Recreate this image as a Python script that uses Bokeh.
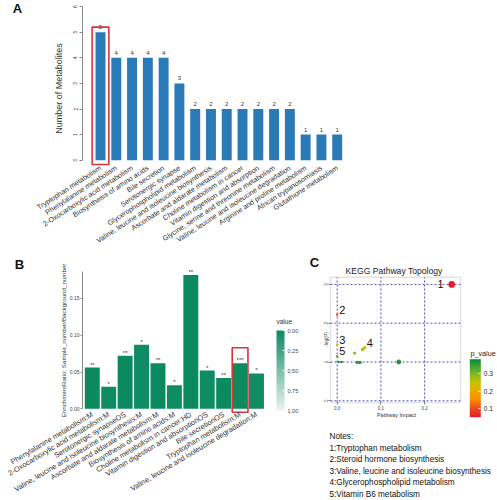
import numpy as np
from math import radians, pi
from bokeh.plotting import figure
from bokeh.models import (ColumnDataSource, Range1d, FixedTicker, Label, ColorBar,
                          LinearColorMapper, PrintfTickFormatter, BoxAnnotation,
                          CustomJSTickFormatter, AllLabels)
from bokeh.layouts import column, row
from bokeh.embed import file_html
from bokeh.resources import INLINE
from bokeh.core.properties import value
from bokeh.transform import transform

# ---------------- data: panel A ----------------
a_pathways = ["Tryptophan metabolism", "Phenylalanine metabolism",
              "2-Oxocarboxylic acid metabolism", "Biosynthesis of amino acids",
              "Bile secretion", "Serotonergic synapse", "Glycerophospholipid metabolism",
              "Valine, leucine and isoleucine biosynthesis", "Ascorbate and aldarate metabolism",
              "Choline metabolism in cancer", "Vitamin digestion and absorption",
              "Glycine, serine and threonine metabolism",
              "Valine, leucine and isoleucine degradation", "Arginine and proline metabolism",
              "African trypanosomiasis", "Glutathione metabolism"]
a_counts = [5, 4, 4, 4, 4, 3, 2, 2, 2, 2, 2, 2, 2, 1, 1, 1]
a_highlight = "Tryptophan metabolism"
a_yticks = [0, 1, 2, 3, 4, 5, 6]

# ---------------- data: panel B ----------------
b_pathways = ["Phenylalanine metabolism:M", "2-Oxocarboxylic acid metabolism:M",
              "Serotonergic synapseOS", "Valine, leucine and isoleucine biosynthesis:M",
              "Ascorbate and aldarate metabolism:M", "Biosynthesis of amino acids:M",
              "Choline metabolism in cancer:HD", "Vitamin digestion and absorptionOS",
              "Bile secretionOS", "Tryptophan metabolism:M",
              "Valine, leucine and isoleucine degradation:M"]
b_ratio = [0.056, 0.030, 0.072, 0.087, 0.062, 0.032, 0.182, 0.052, 0.042, 0.062, 0.048]
b_stars = ["**", "*", "**", "*", "**", "*", "**", "*", "**", "***", "*"]
b_value = [0.005, 0.02, 0.005, 0.02, 0.005, 0.02, 0.005, 0.02, 0.005, 0.0005, 0.02]
b_highlight = "Tryptophan metabolism:M"
b_yticks = [0.0, 0.05, 0.10, 0.15]
b_ymax = 0.1866
b_value_ticks = [0.0, 0.25, 0.50, 0.75, 1.00]

# ---------------- data: panel C ----------------
c_impact = [0.262, 0.0, 0.0, 0.063, 0.0, 0.058, 0.040, 0.046, 0.052, 0.141, 0.003, 0.010]
c_neglogp = [3.00, 2.22, 1.45, 1.37, 1.15, 1.32, 1.23, 0.99, 0.99, 1.00, 1.00, 1.00]
c_label = ["1", "2", "3", "4", "5", "", "", "", "", "", "", ""]
c_names = ["Tryptophan metabolism", "Steroid hormone biosynthesis",
           "Valine, leucine and isoleucine biosynthesis", "Glycerophospholipid metabolism",
           "Vitamin B6 metabolism"]
c_xticks = [0.0, 0.1, 0.2]
c_yticks = [0, 1, 2, 3]
c_xlim = (-0.0153, 0.2822)
c_ylim = (-0.044, 3.186)
c_pticks = [0.1, 0.2, 0.3]

FONT = "Liberation Sans"
A_BLUE = "#2a7ab8"
RED = "#d8343c"

# ---------------- layout geometry (pixels) ----------------
W = 497
H_TOP, H_BOT = 248, 252
W_B = 300
W_C = W - W_B


def interp_palette(stops, n=256):
    pos = np.array([s[0] for s in stops], float)
    cols = np.array([[int(s[1][i:i + 2], 16) for i in (1, 3, 5)] for s in stops], float)
    out = []
    for v in np.linspace(pos[0], pos[-1], n):
        rgb = [int(round(np.interp(v, pos, cols[:, k]))) for k in range(3)]
        out.append("#%02x%02x%02x" % tuple(rgb))
    return out


def base_fig(width, height, x_range, y_range):
    f = figure(width=width, height=height, x_range=x_range, y_range=y_range,
               output_backend="svg", toolbar_location=None,
               min_border_left=0, min_border_right=0, min_border_top=0, min_border_bottom=0)
    f.grid.visible = False
    f.outline_line_color = None
    f.background_fill_color = "white"
    f.border_fill_color = "white"
    return f


def style_axis(ax, size, color="#444444"):
    ax.major_label_text_font = FONT
    ax.major_label_text_font_size = size
    ax.major_label_text_color = color
    ax.minor_tick_line_color = None


def text_label(fig, x, y, text, size, bold=False, align="center", angle=0.0, color="#222222",
               baseline="middle"):
    fig.add_layout(Label(x=x, y=y, x_units="screen", y_units="screen", text=text,
                         text_font=FONT, text_font_size=size,
                         text_font_style="bold" if bold else "normal",
                         text_align=align, text_baseline=baseline, angle=angle,
                         text_color=color))


# ================= Panel A =================
A_BAR0, A_STEP, A_ZERO, A_UNIT, A_AXIS_X = 100.0, 15.78, 159.7, 25.6, 82.0
pa = base_fig(W, H_TOP, Range1d(-A_BAR0 / A_STEP, (W - A_BAR0) / A_STEP),
              Range1d(-(H_TOP - A_ZERO) / A_UNIT, A_ZERO / A_UNIT))
a_idx = list(range(len(a_pathways)))
srcA = ColumnDataSource(dict(x=a_idx, top=a_counts, lab=[str(c) for c in a_counts]))
pa.vbar(x="x", top="top", bottom=0, width=0.63, source=srcA, fill_color=A_BLUE, line_color=None)
pa.text(x="x", y="top", text="lab", source=srcA, text_align="center", text_baseline="bottom",
        y_offset=-3, text_font_size="6px", text_color="#333333", text_font=value(FONT))
ha = a_pathways.index(a_highlight)
pa.quad(left=[ha - 0.53], right=[ha + 0.53], top=[a_counts[ha] + 0.2], bottom=[-0.17],
        fill_color=None, line_color=RED, line_width=1.6)

xa = pa.xaxis[0]
xa.fixed_location = 0
xa.ticker = FixedTicker(ticks=a_idx)
xa.major_label_overrides = {i: n for i, n in zip(a_idx, a_pathways)}
xa.major_label_orientation = radians(33)
xa.axis_line_color = None
xa.major_tick_line_color = None
xa.major_tick_in = 0
xa.major_tick_out = 0
xa.major_label_standoff = 7
style_axis(xa, "7.2px", "#333333")

ya = pa.yaxis[0]
ya.fixed_location = (A_AXIS_X - A_BAR0) / A_STEP
ya.bounds = (0, 6)
ya.ticker = FixedTicker(ticks=a_yticks)
ya.major_label_orientation = "vertical"
ya.axis_line_color = "#888888"
ya.major_tick_line_color = "#888888"
ya.major_tick_in = 0
ya.major_tick_out = 3
ya.major_label_standoff = 2
style_axis(ya, "5px")

text_label(pa, 58, H_TOP - 88, "Number of Metabolites", "9px", angle=pi / 2, color="#333333")
text_label(pa, 17, H_TOP - 8, "A", "13px", bold=True, color="#111111")

# ================= Panel B =================
B_TOP = H_TOP
B_BAR0, B_STEP, B_ZERO, B_UNIT, B_AXIS_X = 91.8, 16.42, 408.3 - B_TOP, 735.6, 82.0
pb = base_fig(W_B, H_BOT, Range1d(-B_BAR0 / B_STEP, (W_B - B_BAR0) / B_STEP),
              Range1d(-(H_BOT - B_ZERO) / B_UNIT, B_ZERO / B_UNIT))
b_idx = list(range(len(b_pathways)))
# colour key runs from 0.00 (dark, top) down to 1.00 (light, bottom): map 1 - value
mapB = LinearColorMapper(palette=interp_palette([(0, "#eaf4ef"), (1, "#0b8a5e")]),
                         low=0, high=1)
srcB = ColumnDataSource(dict(x=b_idx, top=b_ratio, stars=b_stars,
                             flip=[1 - v for v in b_value]))
pb.vbar(x="x", top="top", bottom=0, width=0.91, source=srcB,
        fill_color=transform("flip", mapB), line_color=None)
pb.text(x="x", y="top", text="stars", source=srcB, text_align="center",
        text_baseline="bottom", y_offset=0, text_font_size="6px", text_color="#333333",
        text_font=value(FONT))
hb = b_pathways.index(b_highlight)
pb.quad(left=[hb - 0.48], right=[hb + 0.48], top=[b_ratio[hb] + 0.021], bottom=[-0.0046],
        fill_color=None, line_color=RED, line_width=1.6)

xb = pb.xaxis[0]
xb.fixed_location = 0
xb.ticker = FixedTicker(ticks=b_idx)
xb.major_label_overrides = {i: n for i, n in zip(b_idx, b_pathways)}
xb.major_label_orientation = radians(31)
xb.axis_line_color = None
xb.major_tick_line_color = None
xb.major_tick_in = 0
xb.major_tick_out = 0
xb.major_label_standoff = 5
style_axis(xb, "7.4px", "#333333")

yb = pb.yaxis[0]
yb.fixed_location = (B_AXIS_X - B_BAR0) / B_STEP
yb.bounds = (0, b_ymax)
yb.ticker = FixedTicker(ticks=b_yticks)
yb.formatter = PrintfTickFormatter(format="%.2f")
yb.axis_line_color = "#888888"
yb.major_tick_line_color = "#888888"
yb.major_tick_in = 0
yb.major_tick_out = 2
yb.major_label_standoff = 1
style_axis(yb, "5px")

text_label(pb, 63, H_BOT - (340 - B_TOP),
           "EnrichmentRatio: Sample_number/Background_number", "6.2px", angle=pi / 2,
           color="#333333")
text_label(pb, 19, H_BOT - (264 - B_TOP), "B", "13px", bold=True, color="#111111")

cbB = ColorBar(color_mapper=mapB, location=(276, H_BOT - (410 - B_TOP)), width=8, height=80,
               padding=0, margin=0, title=None,
               ticker=FixedTicker(ticks=[1 - t for t in b_value_ticks]),
               formatter=CustomJSTickFormatter(code="return (1 - tick).toFixed(2)"),
               major_label_policy=AllLabels(),
               major_label_text_font=FONT, major_label_text_font_size="5.5px",
               major_label_text_color="#444444", label_standoff=3,
               major_tick_line_color="white", major_tick_in=2, major_tick_out=0,
               minor_tick_line_color=None, bar_line_color=None, border_line_color=None,
               background_fill_color=None)
pb.add_layout(cbB)
text_label(pb, 276, H_BOT - (321 - B_TOP), "value", "6.5px", align="left", color="#333333")

# ================= Panel C =================
C_LEFT, C_TOP = W_B, H_TOP
C_X0, C_XU, C_Y0, C_YU = 336.7 - C_LEFT, 437.0, 400.3 - C_TOP, 38.8
pc = base_fig(W_C, H_BOT, Range1d(-C_X0 / C_XU, (W_C - C_X0) / C_XU),
              Range1d(-(H_BOT - C_Y0) / C_YU, C_Y0 / C_YU))

stopsC = [(0.047, "#e41a2c"), (0.10, "#f04a1a"), (0.15, "#fb8c00"), (0.20, "#f0aa00"),
          (0.25, "#c8c400"), (0.30, "#80b828"), (0.386, "#078c3c")]
mapC = LinearColorMapper(palette=interp_palette(stopsC), low=0.047, high=0.386)

# dashed blue reference grid inside the plot region
pc.segment(x0=c_xticks, x1=c_xticks, y0=[c_ylim[0]] * len(c_xticks),
           y1=[c_ylim[1]] * len(c_xticks), line_color="#3a3aa8", line_dash="2 2",
           line_width=0.9)
pc.segment(x0=[c_xlim[0]] * len(c_yticks), x1=[c_xlim[1]] * len(c_yticks), y0=c_yticks,
           y1=c_yticks, line_color="#3a3aa8", line_dash="2 2", line_width=0.9)
pc.add_layout(BoxAnnotation(left=c_xlim[0], right=c_xlim[1], bottom=c_ylim[0], top=c_ylim[1],
                            fill_color=None, line_color="#a0a0a0", line_width=1.5))

c_p = [float(np.exp(-v)) for v in c_neglogp]
srcC = ColumnDataSource(dict(x=c_impact, y=c_neglogp, p=c_p, lab=c_label,
                             size=[2.5 + 16 * v for v in c_impact]))
pc.scatter(x="x", y="y", size="size", source=srcC, fill_color=transform("p", mapC),
           line_color=None)
edge = 0.2
right_lab = [i for i, v in enumerate(c_impact) if c_label[i] and v > edge]
left_lab = [i for i, v in enumerate(c_impact) if c_label[i] and v <= edge]
pc.text(x=[c_impact[i] for i in right_lab], y=[c_neglogp[i] for i in right_lab],
        text=[c_label[i] for i in right_lab], text_align="right", text_baseline="middle",
        x_offset=-8, text_font_size="11px", text_color="#111111", text_font=value(FONT))
pc.text(x=[c_impact[i] for i in left_lab], y=[c_neglogp[i] for i in left_lab],
        text=[c_label[i] for i in left_lab], text_align="left", text_baseline="middle",
        x_offset=2, y_offset=-5, text_font_size="11px", text_color="#111111",
        text_font=value(FONT))

xc = pc.xaxis[0]
xc.fixed_location = c_ylim[0]
xc.bounds = c_xlim
xc.ticker = FixedTicker(ticks=c_xticks)
xc.formatter = PrintfTickFormatter(format="%.1f")
xc.axis_line_color = None
xc.major_tick_line_color = "#777777"
xc.major_tick_in = 0
xc.major_tick_out = 2
xc.major_label_standoff = 1
style_axis(xc, "4.5px")

yc = pc.yaxis[0]
yc.fixed_location = c_xlim[0]
yc.bounds = c_ylim
yc.ticker = FixedTicker(ticks=c_yticks)
yc.major_label_orientation = "vertical"
yc.axis_line_color = None
yc.major_tick_line_color = "#777777"
yc.major_tick_in = 0
yc.major_tick_out = 2
yc.major_label_standoff = 1
style_axis(yc, "4.5px")

text_label(pc, 393.5 - C_LEFT, H_BOT - (270 - C_TOP), "KEGG Pathway Topology", "8.6px")
text_label(pc, 396 - C_LEFT, H_BOT - (414 - C_TOP), "Pathway Impact", "5.5px",
           color="#333333")
text_label(pc, 325 - C_LEFT, H_BOT - (339 - C_TOP), "-log(P)", "5px", angle=pi / 2,
           color="#333333")
text_label(pc, 314 - C_LEFT, H_BOT - (262 - C_TOP), "C", "13px", bold=True, color="#111111")

cbC = ColorBar(color_mapper=mapC, location=(469.3 - C_LEFT, H_BOT - (416.7 - C_TOP)),
               width=11, height=58, padding=0, margin=0, title=None,
               ticker=FixedTicker(ticks=c_pticks), major_label_policy=AllLabels(),
               major_label_text_font=FONT,
               major_label_text_font_size="6.5px", major_label_text_color="#222222",
               label_standoff=3, major_tick_line_color="white", major_tick_in=2,
               major_tick_out=0, minor_tick_line_color=None, bar_line_color=None,
               border_line_color=None, background_fill_color=None)
pc.add_layout(cbC)
text_label(pc, 470 - C_LEFT, H_BOT - (353 - C_TOP), "p_value", "7.2px", align="left")

notes = ["Notes:"] + ["%s:%s" % (l, n) for l, n in zip([x for x in c_label if x], c_names)]
for k, line in enumerate(notes):
    text_label(pc, 329 - C_LEFT, H_BOT - (436 + 11.5 * k - C_TOP), line, "8.2px",
               align="left", color="#111111")

layout = column(pa, row(pb, pc, spacing=0), spacing=0)
open("out.html", "w").write(file_html(layout, INLINE))
